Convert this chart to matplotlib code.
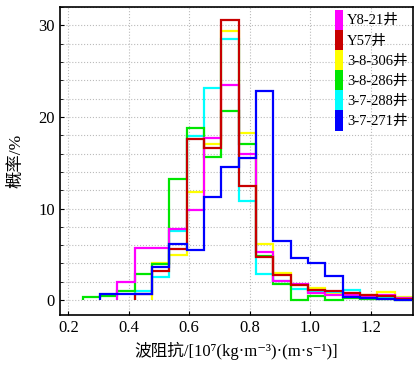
import numpy as np
import matplotlib
matplotlib.use('Agg')
import matplotlib.pyplot as plt
from matplotlib.patches import Patch
from matplotlib.ticker import MultipleLocator

plt.rcParams.update({
    'font.family': ['Liberation Serif', 'Noto Sans CJK SC', 'DejaVu Serif'],
    'axes.unicode_minus': False,
})

# bin edges of the impedance histogram, 10^7 (kg/m3)(m/s)
edges = np.linspace(0.248, 1.337, 20)

# probability (%) in each bin, per well
wells = ['Y8-21井', 'Y57井', '3-8-306井', '3-8-286井', '3-7-288井', '3-7-271井']
y8_21 = [0, 0, 2.0, 5.7, 5.7, 7.8, 9.8, 17.7, 23.5, 16.0, 5.3, 2.1, 1.8, 0.8, 0.55, 0.55, 0.45, 0.5, 0.25]
y57 = [0, 0, 0, 0.7, 3.2, 5.6, 17.6, 16.6, 30.6, 12.5, 4.7, 2.75, 1.6, 1.1, 1.0, 0.75, 0.55, 0.45, 0.15]
w3_8_306 = [0, 0, 0, 0, 4.1, 4.9, 11.8, 17.0, 29.4, 18.2, 6.1, 3.0, 1.6, 1.3, 0.7, 0.6, 0.55, 0.85, 0.3]
w3_8_286 = [0.35, 0.45, 1.0, 2.8, 3.9, 13.2, 18.8, 15.6, 20.7, 17.0, 4.85, 1.8, 0.05, 0.4, 0.05, 0.2, 0.1, 0.1, 0.05]
w3_7_288 = [0, 0, 0, 1.0, 2.55, 7.5, 17.9, 23.2, 28.5, 10.8, 2.9, 2.1, 1.2, 0.9, 0.9, 1.1, 0.4, 0.35, 0.2]
w3_7_271 = [0, 0.7, 0.7, 0.7, 3.6, 6.1, 5.5, 11.3, 14.5, 15.5, 22.8, 6.4, 4.55, 4.1, 2.6, 0.3, 0.2, 0.1, 0.05]
series = [y8_21, y57, w3_8_306, w3_8_286, w3_7_288, w3_7_271]
colors = ['#ff00ff', '#c80000', '#ffff00', '#00e600', '#00ffff', '#0000ff']
# drawing order: red and blue end up on top
layer = [4, 5, 1, 3, 2, 6]

fig = plt.figure(figsize=(4.18, 3.72), dpi=100)
ax = fig.add_axes([0.1435, 0.153, 0.845, 0.828])

for vals, c, z in zip(series, colors, layer):
    v = np.array(vals, dtype=float)
    i0 = np.flatnonzero(v)[0]
    ax.stairs(v[i0:], edges[i0:], baseline=0, color=c, linewidth=1.6, zorder=2 + z * 0.1)

ax.set_xlim(0.1725, 1.341)
ax.set_ylim(-1.64, 32.0)
ax.yaxis.set_major_locator(MultipleLocator(10))
ax.yaxis.set_minor_locator(MultipleLocator(2))
ax.grid(True, which='both', color='#bbbbbb', linestyle=':', linewidth=0.8)
ax.set_axisbelow(True)
ax.tick_params(direction='in', labelsize=12, length=3)
ax.tick_params(which='minor', direction='in', length=2)
ax.set_xticks(np.arange(0.2, 1.3, 0.2))
ax.set_xticklabels(['0.2', '0.4', '0.6', '0.8', '1.0', '1.2'])
for s in ax.spines.values():
    s.set_linewidth(1.2)

ax.set_ylabel('概率/%', fontsize=12.5, labelpad=10)
ax.set_xlabel('波阻抗/[10⁷(kg·m⁻³)·(m·s⁻¹)]', fontsize=12, labelpad=4)

handles = [Patch(facecolor=c, edgecolor='none') for c in colors]
ax.legend(handles, wells, loc='upper left', bbox_to_anchor=(0.78, 0.992),
          frameon=False, fontsize=10.5, handlelength=0.5, handleheight=1.75,
          labelspacing=0.0, handletextpad=0.3, borderpad=0.0, borderaxespad=0.0)

fig.savefig('out.png', dpi=100)
